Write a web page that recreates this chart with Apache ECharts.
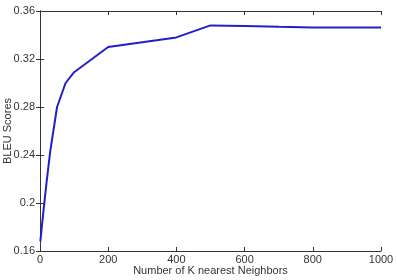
<!DOCTYPE html>
<html><head><meta charset="utf-8">
<script src="https://cdn.jsdelivr.net/npm/echarts@6/dist/echarts.min.js"></script>
<style>html,body{margin:0;padding:0;background:#fff}#c{width:397px;height:280px}</style>
</head><body><div id="c"></div>
<script>
const kValues = [1, 10, 20, 30, 50, 75, 100, 200, 400, 500, 600, 700, 800, 1000];
const bleuScores = [0.168, 0.193, 0.219, 0.243, 0.280, 0.300, 0.309, 0.330, 0.338, 0.348, 0.3475, 0.3468, 0.3462, 0.3462];
const xTicks = [0, 200, 400, 600, 800, 1000];
const yTicks = [0.16, 0.2, 0.24, 0.28, 0.32, 0.36];

const chart = echarts.init(document.getElementById('c'));
const font = 'Liberation Sans, Arial, sans-serif';
const axisLine = {show: true, lineStyle: {color: '#333', width: 1}};
const tick = {show: true, inside: true, length: 4, lineStyle: {color: '#333'}};
chart.setOption({
  animation: false,
  grid: {left: 40, right: 16, top: 11, bottom: 29, containLabel: false, outerBoundsMode: 'none'},
  xAxis: [{
    type: 'value', min: xTicks[0], max: xTicks[xTicks.length-1], interval: 200,
    axisLine, axisTick: tick, splitLine: {show: false},
    axisLabel: {color: '#333', fontFamily: font, fontSize: 11, margin: 3, formatter: v => String(v)},
    name: 'Number of K nearest Neighbors', nameLocation: 'middle', nameGap: 14, nameMoveOverlap: false,
    nameTextStyle: {color: '#333', fontFamily: font, fontSize: 11}
  }, {
    type: 'value', position: 'top', min: 0, max: 1000, interval: 200,
    axisLine, axisTick: tick, splitLine: {show: false}, axisLabel: {show: false}
  }],
  yAxis: [{
    type: 'value', min: yTicks[0], max: yTicks[yTicks.length-1], interval: 0.04,
    axisLine, axisTick: tick, splitLine: {show: false},
    axisLabel: {color: '#333', fontFamily: font, fontSize: 11, margin: 5,
      formatter: v => String(+v.toFixed(2))},
    name: 'BLEU Scores', nameLocation: 'middle', nameGap: 27, nameRotate: 90, nameMoveOverlap: false,
    nameTextStyle: {color: '#333', fontFamily: font, fontSize: 11}
  }, {
    type: 'value', position: 'right', min: 0.16, max: 0.36, interval: 0.04,
    axisLine, axisTick: tick, splitLine: {show: false}, axisLabel: {show: false}
  }],
  series: [{
    type: 'line', xAxisIndex: 0, yAxisIndex: 0,
    data: kValues.map((k, i) => [k, bleuScores[i]]),
    showSymbol: false, symbol: 'none',
    lineStyle: {color: '#2020c8', width: 2}
  }]
});
</script></body></html>
